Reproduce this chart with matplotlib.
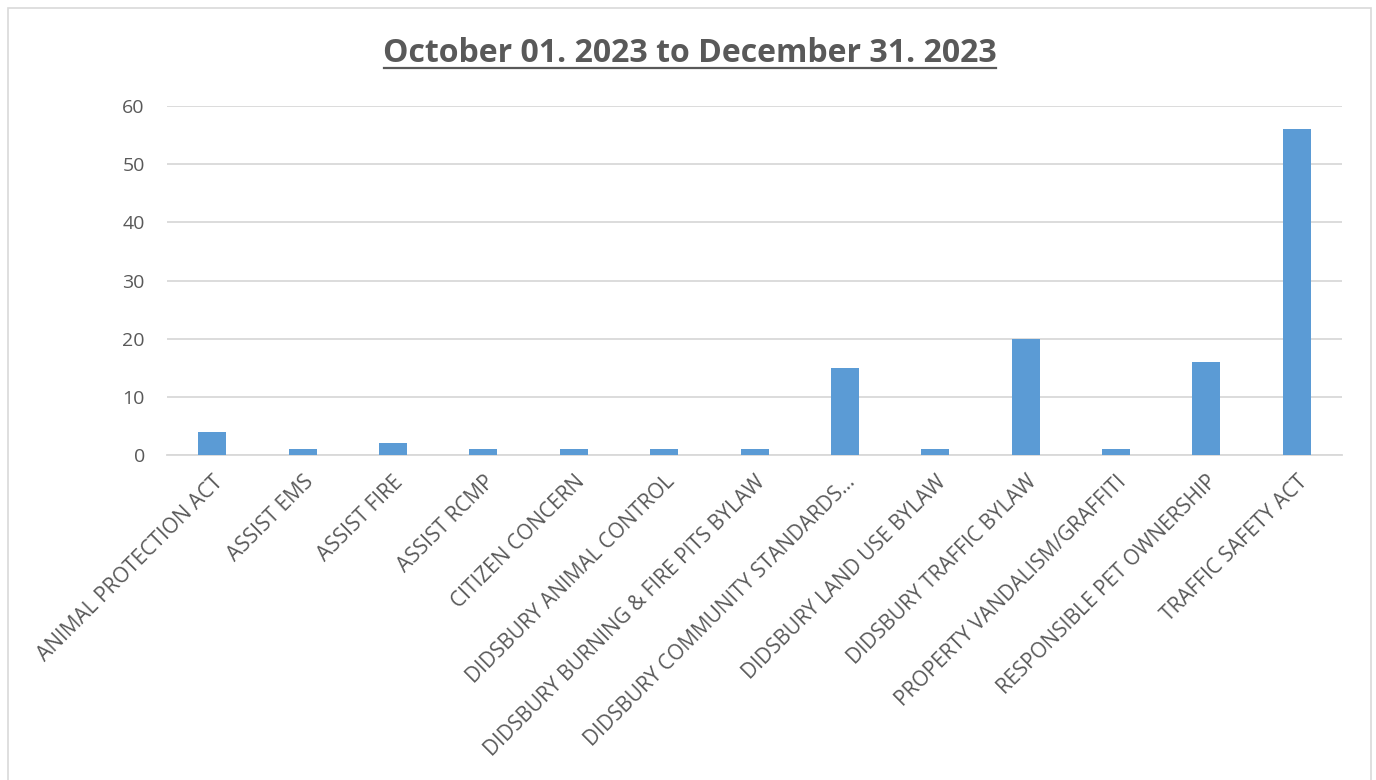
import matplotlib.pyplot as plt
from matplotlib.patches import Rectangle

categories = [
    "ANIMAL PROTECTION ACT", "ASSIST EMS", "ASSIST FIRE", "ASSIST RCMP",
    "CITIZEN CONCERN", "DIDSBURY ANIMAL CONTROL",
    "DIDSBURY BURNING & FIRE PITS BYLAW", "DIDSBURY COMMUNITY STANDARDS…",
    "DIDSBURY LAND USE BYLAW", "DIDSBURY TRAFFIC BYLAW",
    "PROPERTY VANDALISM/GRAFFITI", "RESPONSIBLE PET OWNERSHIP",
    "TRAFFIC SAFETY ACT",
]
counts = [4, 1, 2, 1, 1, 1, 1, 15, 1, 20, 1, 16, 56]
y_ticks = [0, 10, 20, 30, 40, 50, 60]
title = "October 01. 2023 to December 31. 2023"

plt.rcParams['font.family'] = ['Open Sans', 'DejaVu Sans']

fig = plt.figure(figsize=(13.76, 7.80), dpi=100)
fig.patches.append(Rectangle((0.006, -0.01), 0.9905, 1.0, transform=fig.transFigure,
                             fill=False, edgecolor='#D9D9D9', linewidth=1.2))

ax = fig.add_axes([0.1214, 0.4167, 0.8539, 0.4473])
x = range(len(categories))
ax.bar(x, counts, width=0.31, color='#5B9BD5', zorder=3)
ax.set_xlim(-0.5, len(categories) - 0.5)
ax.set_ylim(0, 60)
ax.set_yticks(y_ticks)
ax.set_yticklabels([str(v) for v in y_ticks], fontsize=14, color='#595959')
ax.yaxis.grid(True, color='#D9D9D9', linewidth=1.3, zorder=0)
ax.tick_params(axis='y', length=0, pad=16)
ax.tick_params(axis='x', length=0, pad=12)
ax.set_xticks(list(x))
ax.set_xticklabels(categories, rotation=45, ha='right', va='top',
                   rotation_mode='anchor', fontsize=15, color='#595959')
for s in ['top', 'right', 'left']:
    ax.spines[s].set_visible(False)
ax.spines['bottom'].set_color('#D9D9D9')
ax.spines['bottom'].set_linewidth(1.3)

fig.text(0.5015, 0.932, title, ha='center', va='center', fontsize=23,
         fontweight='bold', color='#595959')
# underline below the title
fig.add_artist(plt.Line2D([0.279, 0.724], [0.913, 0.913], color='#595959',
                          linewidth=1.6, transform=fig.transFigure))

fig.savefig('out.png', dpi=100)
